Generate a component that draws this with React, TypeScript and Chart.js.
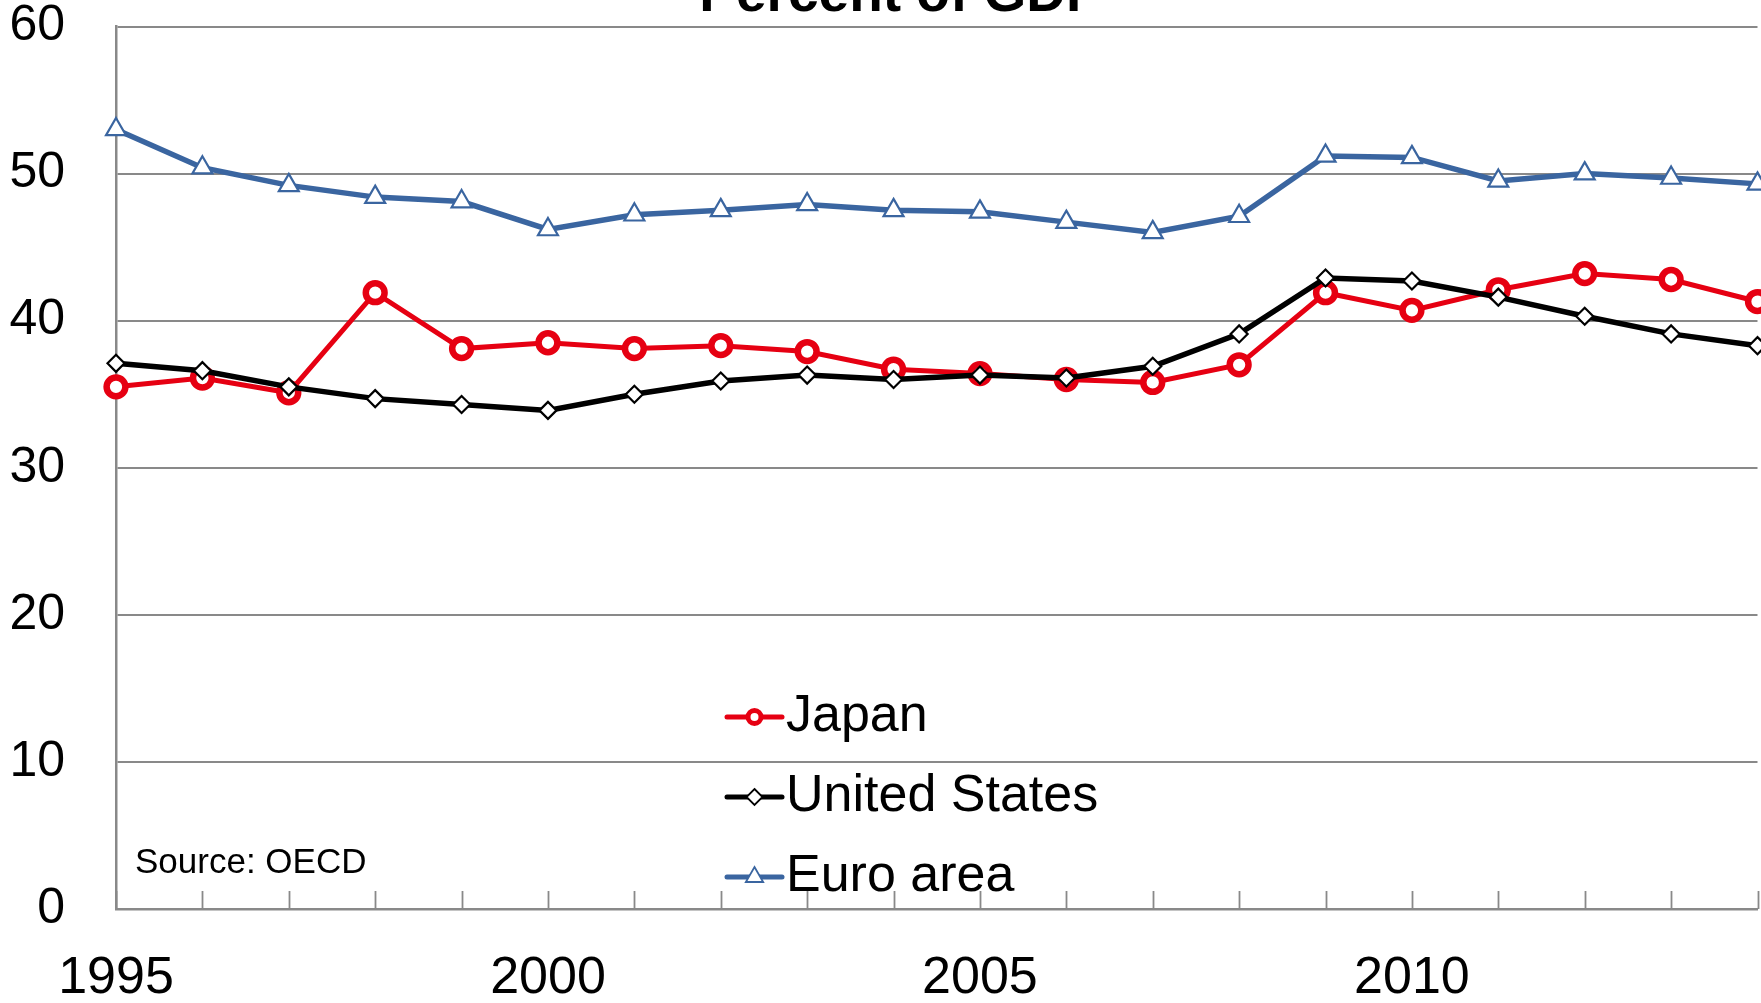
import React, { useEffect, useRef } from "react";
import { Chart, registerables } from "chart.js";

Chart.register(...registerables);

const years = ["1995","1996","1997","1998","1999","2000","2001","2002","2003","2004","2005","2006","2007","2008","2009","2010","2011","2012","2013","2014"];
const shownYearLabels = ["1995", "2000", "2005", "2010"];
const japan = [35.5, 36.1, 35.1, 41.9, 38.1, 38.5, 38.1, 38.3, 37.9, 36.7, 36.4, 36.0, 35.8, 37.0, 41.9, 40.7, 42.1, 43.2, 42.8, 41.3];
const unitedStates = [37.1, 36.6, 35.5, 34.7, 34.3, 33.9, 35.0, 35.9, 36.3, 36.0, 36.3, 36.1, 36.9, 39.1, 42.9, 42.7, 41.6, 40.3, 39.1, 38.3];
const euroArea = [53.0, 50.4, 49.2, 48.4, 48.1, 46.2, 47.2, 47.5, 47.9, 47.5, 47.4, 46.7, 46.0, 47.1, 51.2, 51.1, 49.5, 50.0, 49.7, 49.3];
const titleText = "Percent of GDP";
const sourceText = "Source: OECD";

const FONT = "'Liberation Sans', Arial, sans-serif";
const RED = "#E60012";
const BLACK = "#000000";
const BLUE = "#3A65A0";
const GRID = "#898989";

function drawMarker(ctx: CanvasRenderingContext2D, style: string, x: number, y: number, r: number, color: string, bw: number) {
  ctx.save();
  ctx.beginPath();
  if (style === "circle") {
    ctx.arc(x, y, r, 0, Math.PI * 2);
  } else if (style === "rectRot") {
    ctx.moveTo(x, y - r);
    ctx.lineTo(x + r, y);
    ctx.lineTo(x, y + r);
    ctx.lineTo(x - r, y);
  } else {
    const h = r;
    ctx.moveTo(x, y - h);
    ctx.lineTo(x + h * Math.sin(Math.PI / 3), y + h * 0.5);
    ctx.lineTo(x - h * Math.sin(Math.PI / 3), y + h * 0.5);
  }
  ctx.closePath();
  ctx.fillStyle = "#ffffff";
  ctx.fill();
  ctx.lineWidth = bw;
  ctx.strokeStyle = color;
  ctx.stroke();
  ctx.restore();
}

const legendItems = [
  { label: "Japan", color: RED, style: "circle", r: 6.5, bw: 5 },
  { label: "United States", color: BLACK, style: "rectRot", r: 8, bw: 1.8 },
  { label: "Euro area", color: BLUE, style: "triangle", r: 10, bw: 1.8 },
];

const decorPlugin = {
  id: "decor",
  beforeDatasetsDraw(chart: any) {
    const { ctx, chartArea, scales } = chart;
    const xs = scales.x;
    ctx.save();
    ctx.strokeStyle = GRID;
    ctx.lineWidth = 1.8;
    for (let i = 0; i < years.length; i++) {
      const px = Math.round(xs.getPixelForValue(i)) + 0.5;
      ctx.beginPath();
      ctx.moveTo(px, chartArea.bottom - 18);
      ctx.lineTo(px, chartArea.bottom);
      ctx.stroke();
    }
    ctx.restore();
  },
  afterDraw(chart: any) {
    const { ctx } = chart;
    ctx.save();
    // title (partially cut off at the top)
    ctx.fillStyle = "#000";
    ctx.font = `bold 55px ${FONT}`;
    ctx.textAlign = "center";
    ctx.textBaseline = "alphabetic";
    ctx.fillText(titleText, 901, 11);
    // source
    ctx.font = `35px ${FONT}`;
    ctx.textAlign = "left";
    ctx.fillText(sourceText, 135, 873);
    // legend
    const x0 = 727, x1 = 782, xc = (x0 + x1) / 2;
    legendItems.forEach((it, i) => {
      const y = 717 + i * 80;
      ctx.beginPath();
      ctx.strokeStyle = it.color;
      ctx.lineWidth = 5;
      ctx.lineCap = "round";
      ctx.moveTo(x0, y);
      ctx.lineTo(x1, y);
      ctx.stroke();
      drawMarker(ctx, it.style, xc, y, it.r, it.color, it.bw);
      ctx.fillStyle = "#000";
      ctx.font = `52px ${FONT}`;
      ctx.textAlign = "left";
      ctx.textBaseline = "middle";
      ctx.fillText(it.label, 786, y);
    });
    ctx.restore();
  },
};

export default function App() {
  const ref = useRef<HTMLCanvasElement | null>(null);
  useEffect(() => {
    if (!ref.current) return;
    Chart.defaults.font.family = FONT;
    const chart = new Chart(ref.current, {
      type: "line",
      data: {
        labels: years,
        datasets: [
          {
            label: "Japan",
            data: japan,
            borderColor: RED,
            backgroundColor: "#ffffff",
            borderWidth: 5,
            pointStyle: "circle",
            pointRadius: 9.4,
            pointBorderWidth: 6.5,
            pointBorderColor: RED,
            pointBackgroundColor: "#ffffff",
            order: 2,
            clip: false,
          },
          {
            label: "United States",
            data: unitedStates,
            borderColor: BLACK,
            backgroundColor: "#ffffff",
            borderWidth: 5.5,
            pointStyle: "rectRot",
            pointRadius: 8.5,
            pointBorderWidth: 2.2,
            pointBorderColor: BLACK,
            pointBackgroundColor: "#ffffff",
            order: 1,
            clip: false,
          },
          {
            label: "Euro area",
            data: euroArea,
            borderColor: BLUE,
            backgroundColor: "#ffffff",
            borderWidth: 5.5,
            pointStyle: "triangle",
            pointRadius: 11.5,
            pointBorderWidth: 2.2,
            pointBorderColor: BLUE,
            pointBackgroundColor: "#ffffff",
            order: 0,
            clip: false,
          },
        ] as any,
      },
      options: {
        responsive: false,
        animation: false,
        devicePixelRatio: 1,
        layout: { autoPadding: false, padding: { top: 26.5, right: 3.5, left: 0, bottom: 0 } },
        plugins: {
          legend: { display: false },
          title: { display: false },
          tooltip: { enabled: false },
        },
        elements: { line: { tension: 0 } },
        scales: {
          x: {
            type: "category",
            offset: false,
            grid: { display: false, drawTicks: false },
            border: { display: true, color: GRID, width: 2.5 },
            ticks: {
              autoSkip: false,
              maxRotation: 0,
              minRotation: 0,
              padding: 43.5,
              color: "#000",
              font: { size: 52, family: FONT, lineHeight: 1 },
              callback: (_v: any, i: number) => (shownYearLabels.includes(years[i]) ? years[i] : ""),
            },
            afterFit: (s: any) => {
              s.height = 94;
              s.paddingLeft = 0;
              s.paddingRight = 0;
            },
          },
          y: {
            min: 0,
            max: 60,
            grid: { color: GRID, lineWidth: 2, drawTicks: false },
            border: { display: true, color: GRID, width: 2.5 },
            ticks: {
              stepSize: 10,
              padding: 51,
              color: "#000",
              font: { size: 50, family: FONT, lineHeight: 1 },
            },
            afterFit: (s: any) => {
              s.width = 116;
              s.paddingTop = 0;
              s.paddingBottom = 0;
            },
          },
        },
      },
      plugins: [decorPlugin],
    });
    return () => chart.destroy();
  }, []);
  return (
    <div style={{ position: "fixed", left: 0, top: 0, width: 1761, height: 1003, background: "#fff" }}>
      <canvas ref={ref} width={1761} height={1003} style={{ width: 1761, height: 1003, display: "block" }} />
    </div>
  );
}
